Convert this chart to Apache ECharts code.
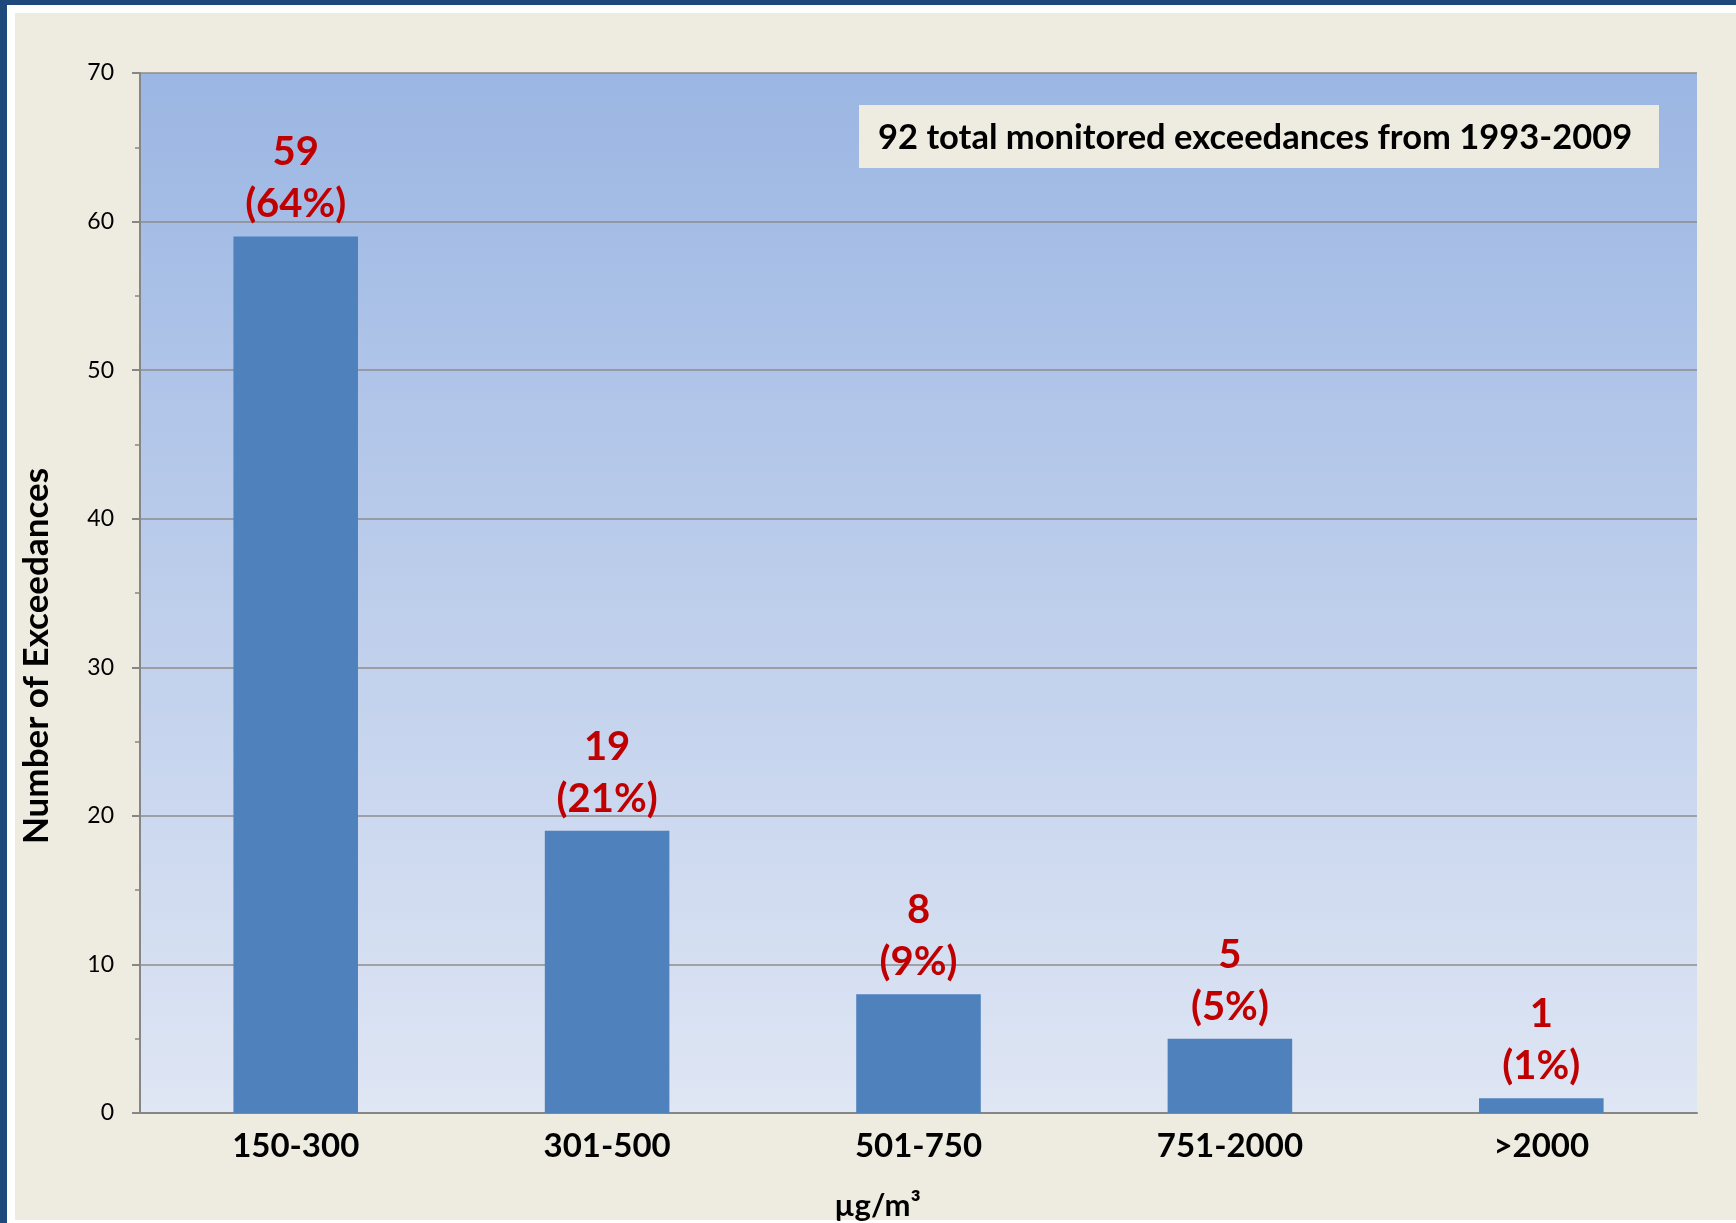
<!DOCTYPE html>
<html>
<head>
<meta charset="utf-8">
<script src="https://cdn.jsdelivr.net/npm/echarts@6/dist/echarts.min.js"></script>
<style>
html,body{margin:0;padding:0;background:#EEEBE0;}
#chart{width:1736px;height:1223px;}
</style>
</head>
<body>
<div id="chart"></div>
<script>
const categories = ['150-300', '301-500', '501-750', '751-2000', '>2000'];
const counts = [59, 19, 8, 5, 1];
const shares = ['64%', '21%', '9%', '5%', '1%'];
const yMin = 0, yMax = 70, yStep = 10;
const noteText = '92 total monitored exceedances from 1993-2009';
const yTitle = 'Number of Exceedances';
const xTitle = 'µg/m³';

const FONT = 'Lato';
const chart = echarts.init(document.getElementById('chart'), null, {renderer: 'canvas'});
chart.setOption({
  backgroundColor: '#EEEBE0',
  animation: false,
  grid: {
    left: 140, right: 39, top: 73, bottom: 110,
    containLabel: false,
    outerBoundsMode: 'none',
    show: true,
    borderWidth: 0,
    backgroundColor: {
      type: 'linear', x: 0, y: 0, x2: 0, y2: 1,
      colorStops: [{offset: 0, color: '#9BB6E3'}, {offset: 1, color: '#DFE6F4'}]
    }
  },
  xAxis: {
    type: 'category',
    data: categories,
    axisTick: {show: false},
    axisLine: {lineStyle: {color: '#868686', width: 2}},
    axisLabel: {color: '#000', fontFamily: FONT, fontWeight: 'bold', fontSize: 33, margin: 17},
    name: xTitle,
    nameLocation: 'middle',
    nameGap: 77,
    nameTextStyle: {color: '#000', fontFamily: FONT, fontWeight: 'bold', fontSize: 31, padding: [0, 82, 0, 0]}
  },
  yAxis: {
    type: 'value',
    min: yMin, max: yMax, interval: yStep,
    axisLine: {show: true, lineStyle: {color: '#868686', width: 2}},
    axisTick: {show: true, length: 8, lineStyle: {color: '#868686', width: 2}},
    minorTick: {show: true, splitNumber: 2, length: 5, lineStyle: {color: '#868686', width: 1.5}},
    splitLine: {show: true, lineStyle: {color: '#8C8C8C', width: 1.5}},
    axisLabel: {color: '#000', fontFamily: FONT, fontSize: 23, margin: 26},
    name: yTitle,
    nameLocation: 'middle',
    nameRotate: 90,
    nameGap: 86,
    nameTextStyle: {color: '#000', fontFamily: FONT, fontWeight: 'bold', fontSize: 35, padding: [0, 126, 0, 0]}
  },
  series: [{
    type: 'bar',
    data: counts,
    barWidth: '40%',
    itemStyle: {color: '#4F81BD'},
    label: {
      show: true,
      position: 'top',
      distance: 6,
      formatter: p => '{v|' + counts[p.dataIndex] + '}\n{v|(' + shares[p.dataIndex] + ')}',
      rich: {
        v: {color: '#C00000', fontFamily: FONT, fontWeight: 'bold', fontSize: 40, lineHeight: 52, align: 'center'}
      }
    }
  }],
  graphic: [
    {type: 'rect', shape: {x: 0, y: 0, width: 1736, height: 5}, style: {fill: '#1F497D'}, silent: true},
    {type: 'rect', shape: {x: 0, y: 0, width: 7, height: 1223}, style: {fill: '#1F497D'}, silent: true},
    {type: 'rect', shape: {x: 7, y: 5, width: 1729, height: 8}, style: {fill: '#FFFFFF'}, silent: true},
    {type: 'rect', shape: {x: 7, y: 5, width: 8, height: 1218}, style: {fill: '#FFFFFF'}, silent: true},
    {type: 'rect', shape: {x: 7, y: 1220, width: 1729, height: 3}, style: {fill: '#FFFFFF'}, silent: true},
    {type: 'rect', shape: {x: 859, y: 105, width: 800, height: 63}, style: {fill: '#EEEBE0'}, z: 10, silent: true},
    {type: 'text', x: 878, y: 138, z: 11, silent: true,
     style: {text: noteText, fill: '#000', font: 'bold 34.5px ' + FONT, textVerticalAlign: 'middle', verticalAlign: 'middle'}}
  ]
});
</script>
</body>
</html>
